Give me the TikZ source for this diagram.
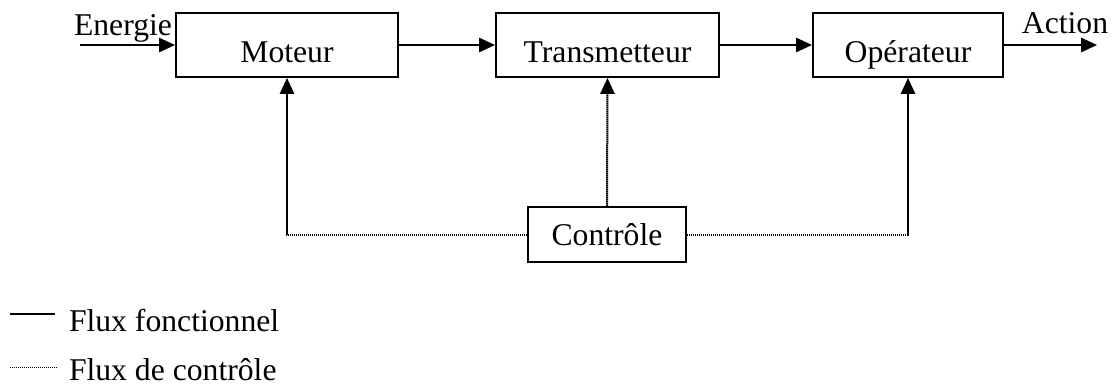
\documentclass[tikz,border=0pt]{standalone}
\usepackage{fontspec}
\setmainfont{Liberation Serif}
\usetikzlibrary{arrows.meta,positioning,calc}
\tikzstyle{bloc}=[rectangle, draw=black, line width=1.2pt, minimum height=38.4pt, text height=20.4pt, text depth=0pt, inner sep=0pt]
\tikzstyle{ctrl}=[line width=1.2pt, dash pattern=on 0.8pt off 0.4pt]

\begin{document}
\begin{tikzpicture}[x=0.6pt, y=-0.6pt, font=\fontsize{19}{22}\selectfont, >={Triangle[length=9.5pt,width=8.5pt]}, line width=1.2pt]
				\useasboundingbox (0,0) rectangle (1113,385);
				\node[bloc, minimum width=133.2pt](moteur)at(287,45){Moteur};
				\node[bloc, minimum width=133.8pt](transmetteur)at(607.5,45){Transmetteur};
				\node[bloc, minimum width=114pt](operateur)at(908,45){Opérateur};
				\node[bloc, minimum width=94.8pt, minimum height=33pt, text height=12.6pt](controle)at(607,234.5){Contrôle};
				\node(energie)at(123,35)[anchor=base, inner sep=0pt]{Energie};
				\node(action)at(1065,33)[anchor=base, inner sep=0pt]{Action};
				\coordinate(ein)at(80,45);
				\coordinate(aout)at(1097,45);
				\draw[->](ein)--(moteur.west);
				\draw[->](moteur)--(transmetteur);
				\draw[->](transmetteur)--(operateur);
				\draw[->](operateur.east)--(aout);
				\draw[->, ctrl](controle.west)-|(moteur.south);
				\draw[->, ctrl](controle.north)--(transmetteur.south);
				\draw[->, ctrl](controle.east)-|(operateur.south);
				% legende
				\node(fonct)at(68,331)[anchor=base west, inner sep=0pt]{Flux fonctionnel};
				\node(flxctrl)at(68,380)[anchor=base west, inner sep=0pt]{Flux de contrôle};
				\coordinate(lf)at(10,314);
				\coordinate(lc)at(10,367);
				\draw(lf)--++(45,0);
				\draw[ctrl, line width=0.6pt](lc)--++(47,0);
			\end{tikzpicture}
\end{document}
